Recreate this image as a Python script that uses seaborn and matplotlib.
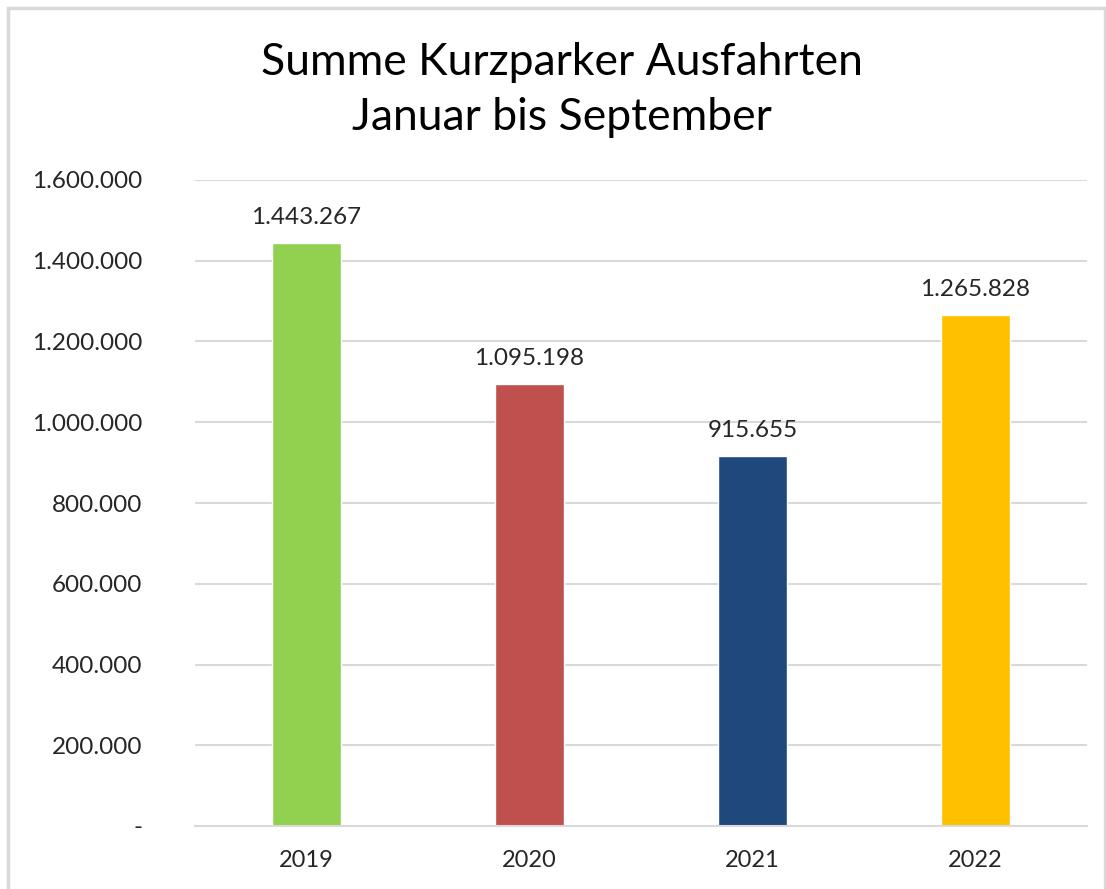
import matplotlib
matplotlib.use("Agg")
import matplotlib.pyplot as plt
import seaborn as sns
import pandas as pd
from matplotlib.patches import Rectangle
from matplotlib.ticker import FuncFormatter

years = ["2019", "2020", "2021", "2022"]
values = [1443267, 1095198, 915655, 1265828]
colors = ["#92D050", "#C0504D", "#1F497D", "#FFC000"]
title = "Summe Kurzparker Ausfahrten\nJanuar bis September"

sns.set_theme(style="white")
plt.rcParams["font.family"] = ["Lato", "DejaVu Sans"]

def de_fmt(v):
    return f"{int(round(v)):,}".replace(",", ".")

df = pd.DataFrame({"year": years, "value": values})

fig = plt.figure(figsize=(11.06, 8.89), dpi=100)
ax = fig.add_axes([195/1106, 1 - 826/889, (1087-195)/1106, (826-180)/889])

sns.barplot(data=df, x="year", y="value", hue="year", palette=colors,
            width=0.31, legend=False, ax=ax, saturation=1)

ax.set_ylim(0, 1600000)
ax.set_yticks(range(0, 1600001, 200000))
ax.yaxis.set_major_formatter(FuncFormatter(lambda v, p: "-" if v == 0 else de_fmt(v)))
ax.grid(axis="y", color="#D9D9D9", linewidth=1.5)
ax.set_axisbelow(True)
for s in ["top", "right", "left"]:
    ax.spines[s].set_visible(False)
ax.spines["bottom"].set_color("#D9D9D9")
ax.spines["bottom"].set_linewidth(1.5)
ax.tick_params(axis="both", length=0, labelsize=17.5, labelcolor="#262626")
ax.tick_params(axis="x", labelsize=17)
ax.tick_params(axis="y", pad=38)
ax.tick_params(axis="x", pad=17)
for lbl in ax.get_yticklabels():
    lbl.set_horizontalalignment("right")
ax.set_xlabel("")
ax.set_ylabel("")

for i, v in enumerate(values):
    ax.annotate(de_fmt(v), (i, v), xytext=(0, 11), textcoords="offset points",
                ha="center", va="bottom", fontsize=17.5, color="#262626")

fig.text(562/1106, 1 - 90/889, title, ha="center", va="center",
         fontsize=32, color="#000000", linespacing=1.4)

fig.patches.append(Rectangle((8/1106, -0.05), (1105-8)/1106, 1 - 8/889 + 0.05,
                             transform=fig.transFigure, fill=False,
                             edgecolor="#D9D9D9", linewidth=2.5))

fig.savefig("out.png", dpi=100)
